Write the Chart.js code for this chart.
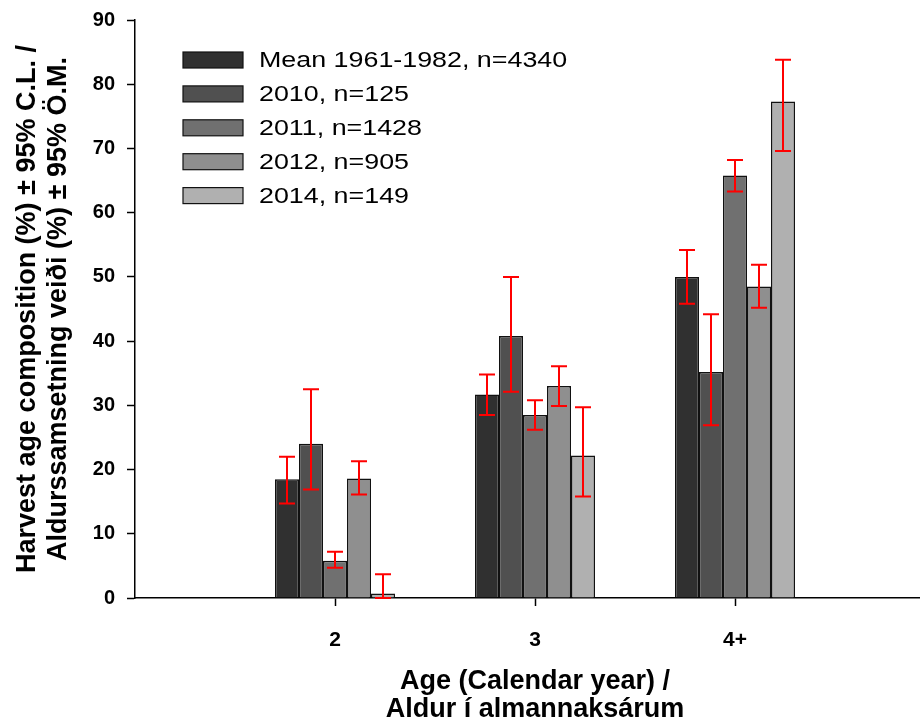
<!DOCTYPE html>
<html>
<head>
<meta charset="utf-8">
<title>Harvest age composition</title>
<script src="https://cdn.jsdelivr.net/npm/chart.js@4.4.1/dist/chart.umd.min.js"></script>
<style>
  html, body { margin: 0; padding: 0; background: #fff; overflow: hidden; }
  #wrap { width: 940px; height: 722px; }
</style>
</head>
<body>
<div id="wrap"><canvas id="ageChart" width="940" height="722"></canvas></div>
<script>
// Age categories (empty slots at both ends keep the axis wide like the original)
const ageLabels = ['', '2', '3', '4+', ''];

const seriesNames = ['Mean 1961-1982, n=4340', '2010, n=125', '2011, n=1428', '2012, n=905', '2014, n=149'];
const seriesColors = ['#303030', '#505050', '#707070', '#8f8f8f', '#b0b0b0'];

// values per series for ages 2, 3, 4+
const mean6182 = [18.5, 31.7, 50.0];
const y2010 = [24.0, 40.8, 35.2];
const y2011 = [5.8, 28.5, 65.8];
const y2012 = [18.6, 33.0, 48.5];
const y2014 = [0.7, 22.2, 77.3];

// lower / upper 95% limits
const mean6182Lo = [14.7, 28.5, 45.8];
const mean6182Hi = [22.0, 34.8, 54.2];
const y2010Lo = [16.9, 32.1, 26.9];
const y2010Hi = [32.5, 50.0, 44.2];
const y2011Lo = [4.7, 26.2, 63.3];
const y2011Hi = [7.2, 30.8, 68.2];
const y2012Lo = [16.1, 29.9, 45.2];
const y2012Hi = [21.3, 36.1, 51.9];
const y2014Lo = [0.0, 15.8, 69.6];
const y2014Hi = [3.7, 29.7, 83.8];

const yTicks = [0, 10, 20, 30, 40, 50, 60, 70, 80, 90];

const seriesValues = [mean6182, y2010, y2011, y2012, y2014];
const seriesLo = [mean6182Lo, y2010Lo, y2011Lo, y2012Lo, y2014Lo];
const seriesHi = [mean6182Hi, y2010Hi, y2011Hi, y2012Hi, y2014Hi];

const FONT = '"Liberation Sans", Arial, Helvetica, sans-serif';

// pad the 3 real categories with nulls for the empty end slots
function padded(arr) {
  return [null].concat(arr, [null]);
}

// red error bars with caps
const errorBarPlugin = {
  id: 'errorBars',
  afterDatasetsDraw(chart) {
    const ctx = chart.ctx;
    const yScale = chart.scales.y;
    ctx.save();
    ctx.strokeStyle = '#ff0000';
    ctx.lineWidth = 2;
    chart.data.datasets.forEach((ds, i) => {
      const meta = chart.getDatasetMeta(i);
      const lo = padded(seriesLo[i]);
      const hi = padded(seriesHi[i]);
      meta.data.forEach((bar, j) => {
        if (lo[j] == null || hi[j] == null) return;
        const x = bar.x;
        const yLo = yScale.getPixelForValue(lo[j]);
        const yHi = yScale.getPixelForValue(hi[j]);
        const cap = 8;
        ctx.beginPath();
        ctx.moveTo(x, yLo);
        ctx.lineTo(x, yHi);
        ctx.moveTo(x - cap, yLo);
        ctx.lineTo(x + cap, yLo);
        ctx.moveTo(x - cap, yHi);
        ctx.lineTo(x + cap, yHi);
        ctx.stroke();
      });
    });
    ctx.restore();
  }
};

// legend drawn inside the plot, top-left (text is a bit wide in the original)
const insideLegendPlugin = {
  id: 'insideLegend',
  afterDraw(chart) {
    const ctx = chart.ctx;
    const left = chart.chartArea.left + 48;
    const top = chart.chartArea.top + 40;
    const rowH = 33.9;
    ctx.save();
    ctx.font = '22px ' + FONT;
    ctx.textBaseline = 'middle';
    chart.data.datasets.forEach((ds, i) => {
      const cy = top + i * rowH;
      ctx.fillStyle = ds.backgroundColor;
      ctx.fillRect(left, cy - 8, 60, 16);
      ctx.strokeStyle = '#111';
      ctx.lineWidth = 1.2;
      ctx.strokeRect(left, cy - 8, 60, 16);
      ctx.fillStyle = '#000';
      ctx.save();
      ctx.translate(left + 76, cy + 1);
      ctx.scale(1.22, 1);
      ctx.fillText(ds.label, 0, 0);
      ctx.restore();
    });
    ctx.restore();
  }
};

function createAgeChart(ctx) {
  const datasets = seriesNames.map((name, i) => ({
    label: name,
    data: padded(seriesValues[i]),
    backgroundColor: seriesColors[i],
    borderColor: '#111',
    borderWidth: 1.5,
    categoryPercentage: 0.6,
    barPercentage: 1.0
  }));

  new Chart(ctx, {
    type: 'bar',
    data: { labels: ageLabels, datasets: datasets },
    plugins: [errorBarPlugin, insideLegendPlugin],
    options: {
      responsive: false,
      animation: false,
      layout: { padding: { top: 20, right: 5, left: 0, bottom: 0 } },
      plugins: {
        legend: { display: false },
        tooltip: { enabled: false }
      },
      scales: {
        x: {
          offset: false,
          afterFit(scale) {
            scale.height = 124;
            // labels padding would otherwise shrink the plot on the right
            scale.paddingLeft = 0;
            scale.paddingRight = 0;
          },
          border: { color: '#000', width: 1.5 },
          grid: {
            offset: false,
            drawOnChartArea: false,
            drawTicks: true,
            tickLength: 8,
            tickWidth: 1.5,
            tickColor: (c) => (ageLabels[c.index] ? '#000' : 'rgba(0,0,0,0)')
          },
          ticks: {
            color: '#000',
            padding: 22,
            maxRotation: 0,
            autoSkip: false,
            font: { family: FONT, size: 21, weight: 'bold' }
          },
          title: {
            display: true,
            text: ['Age (Calendar year) /', 'Aldur í almannaksárum'],
            color: '#000',
            padding: { top: 0, bottom: -2 },
            font: { family: FONT, size: 27, weight: 'bold', lineHeight: '28px' }
          }
        },
        y: {
          min: 0,
          max: 90,
          afterFit(scale) {
            scale.width = 135;
            scale.paddingTop = 0;
            scale.paddingBottom = 0;
          },
          afterBuildTicks(scale) { scale.ticks = yTicks.map(v => ({ value: v })); },
          border: { color: '#000', width: 1.5 },
          grid: {
            drawOnChartArea: false,
            drawTicks: true,
            tickLength: 8,
            tickWidth: 1.5,
            tickColor: '#000'
          },
          ticks: {
            color: '#000',
            padding: 12,
            font: { family: FONT, size: 20, weight: 'bold' }
          },
          title: {
            display: true,
            text: ['Harvest age composition (%) ± 95% C.L. /', 'Aldurssamsetning veiði (%) ± 95% Ö.M.'],
            color: '#000',
            padding: { top: 12, bottom: 0 },
            font: { family: FONT, size: 27, weight: 'bold', lineHeight: '31px' }
          }
        }
      }
    }
  });
}

document.addEventListener('DOMContentLoaded', function() {
  const ctx = document.getElementById('ageChart');
  if (ctx) {
    createAgeChart(ctx);
  }
});
</script>
</body>
</html>
